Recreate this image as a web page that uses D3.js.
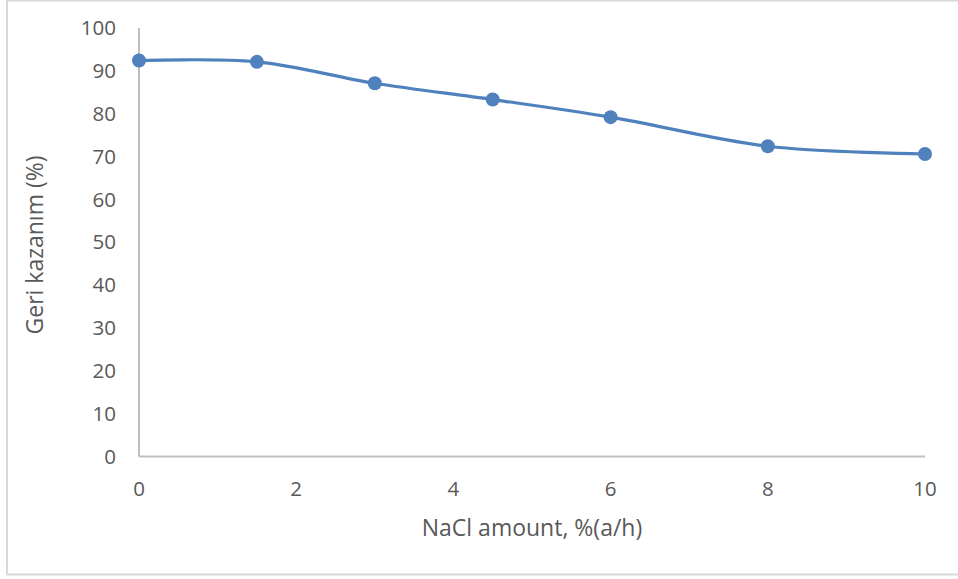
<!DOCTYPE html>
<html><head><meta charset="utf-8">
<script src="https://cdn.jsdelivr.net/npm/d3@7"></script>
<style>body{margin:0;background:#fff}svg{display:block}</style>
</head><body>
<svg id="c" width="958" height="579"></svg>
<script>
const xValues = [0, 1.5, 3, 4.5, 6, 8, 10];
const yValues = [92.4, 92.1, 87.1, 83.3, 79.2, 72.4, 70.6];
const xTicks = [0, 2, 4, 6, 8, 10];
const yTicks = [0, 10, 20, 30, 40, 50, 60, 70, 80, 90, 100];
const xTitle = "NaCl amount, %(a/h)";
const yTitle = "Geri kazanım (%)";

const svg = d3.select("#c");
const font = "'Open Sans', sans-serif";
const textColor = "#595959";
const lineColor = "#4f81bd";

svg.append("rect").attr("x", 7).attr("y", 0.5).attr("width", 960).attr("height", 574)
  .attr("fill", "#fff").attr("stroke", "#d9d9d9").attr("stroke-width", 2);

const x = d3.scaleLinear().domain([0, 10]).range([139, 925]);
const y = d3.scaleLinear().domain([0, 100]).range([456.5, 28]);

svg.append("line").attr("x1", x(0)).attr("x2", x(10)).attr("y1", y(0)).attr("y2", y(0))
  .attr("stroke", "#bfbfbf").attr("stroke-width", 2);
svg.append("line").attr("x1", x(0)).attr("x2", x(0)).attr("y1", y(0)).attr("y2", y(100))
  .attr("stroke", "#bfbfbf").attr("stroke-width", 2);

svg.selectAll(".yt").data(yTicks).enter().append("text")
  .attr("x", 116).attr("y", d => y(d)).attr("dy", "0.35em")
  .attr("text-anchor", "end").attr("font-family", font).attr("font-size", 20.5)
  .attr("fill", textColor).text(d => d);

svg.selectAll(".xt").data(xTicks).enter().append("text")
  .attr("x", d => x(d)).attr("y", 489).attr("dy", "0.35em")
  .attr("text-anchor", "middle").attr("font-family", font).attr("font-size", 20.5)
  .attr("fill", textColor).text(d => d);

svg.append("text").attr("x", 532).attr("y", 528).attr("dy", "0.35em")
  .attr("text-anchor", "middle").attr("font-family", font).attr("font-size", 23)
  .attr("fill", textColor).text(xTitle);

svg.append("text").attr("transform", "translate(35,245) rotate(-90)").attr("dy", "0.35em")
  .attr("text-anchor", "middle").attr("font-family", font).attr("font-size", 23)
  .attr("fill", textColor).text(yTitle);

const pts = xValues.map((v, i) => [v, yValues[i]]);
const line = d3.line().x(d => x(d[0])).y(d => y(d[1])).curve(d3.curveCatmullRom.alpha(0.5));
svg.append("path").attr("d", line(pts)).attr("fill", "none")
  .attr("stroke", lineColor).attr("stroke-width", 3.2).attr("stroke-linejoin", "round");

svg.selectAll(".pt").data(pts).enter().append("circle")
  .attr("cx", d => x(d[0])).attr("cy", d => y(d[1])).attr("r", 7)
  .attr("fill", lineColor);
</script>
</body></html>
